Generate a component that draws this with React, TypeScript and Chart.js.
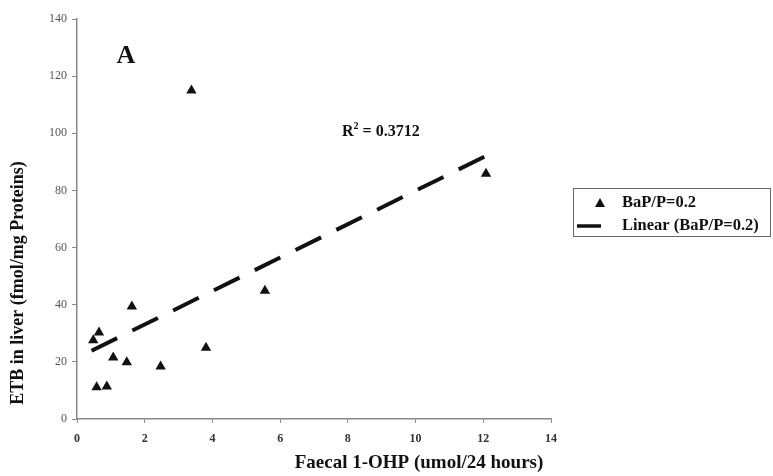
import React, { useEffect, useRef } from "react";
import { Chart, registerables } from "chart.js";

Chart.register(...registerables);

const seriesLabel = "BaP/P=0.2";
const trendLabel = "Linear (BaP/P=0.2)";
const xValues = [3.38, 12.08, 5.55, 1.62, 3.81, 2.47, 1.47, 1.07, 0.65, 0.48, 0.58, 0.88];
const yValues = [115, 85.8, 44.9, 39.4, 24.9, 18.4, 19.9, 21.5, 30.3, 27.6, 11.1, 11.4];
const trendX = [0.43, 12.05];
const trendY = [23.9, 91.9];
const xTitle = "Faecal 1-OHP (umol/24 hours)";
const yTitle = "ETB in liver (fmol/mg Proteins)";
const panelLabel = "A";
const r2Value = "0.3712";

const SERIF = "'Liberation Serif', 'DejaVu Serif', serif";

const overlay = {
  id: "overlay",
  afterDraw(chart: any) {
    const ctx = chart.ctx as CanvasRenderingContext2D;
    ctx.save();
    ctx.fillStyle = "#111";
    // Panel label
    ctx.font = `bold 26px ${SERIF}`;
    ctx.textAlign = "center";
    ctx.textBaseline = "middle";
    ctx.fillText(panelLabel, 126, 56);
    // R^2
    ctx.textAlign = "left";
    ctx.font = `bold 16px ${SERIF}`;
    let x = 342;
    ctx.fillText("R", x, 132);
    x += ctx.measureText("R").width;
    ctx.font = `bold 10px ${SERIF}`;
    ctx.fillText("2", x, 126);
    x += ctx.measureText("2").width;
    ctx.font = `bold 16px ${SERIF}`;
    ctx.fillText(" = " + r2Value, x, 132);
    // Axis titles
    ctx.textAlign = "center";
    ctx.font = `bold 19px ${SERIF}`;
    ctx.fillText(xTitle, 419, 463);
    ctx.save();
    ctx.translate(18, 283);
    ctx.rotate(-Math.PI / 2);
    ctx.font = `bold 18px ${SERIF}`;
    ctx.fillText(yTitle, 0, 0);
    ctx.restore();
    // Legend
    ctx.strokeStyle = "#666";
    ctx.lineWidth = 1;
    ctx.strokeRect(573.5, 188.5, 197, 48);
    ctx.fillStyle = "#111";
    ctx.beginPath();
    ctx.moveTo(600, 198);
    ctx.lineTo(605, 207);
    ctx.lineTo(595, 207);
    ctx.closePath();
    ctx.fill();
    ctx.strokeStyle = "#111";
    ctx.lineWidth = 3.5;
    ctx.beginPath();
    ctx.moveTo(577, 226);
    ctx.lineTo(601, 226);
    ctx.stroke();
    ctx.font = `bold 16.5px ${SERIF}`;
    ctx.textAlign = "left";
    ctx.fillText(chart.data.datasets[0].label, 622, 203);
    ctx.fillText(chart.data.datasets[1].label, 622, 226);
    ctx.restore();
  },
};

export default function App() {
  const ref = useRef<HTMLCanvasElement>(null);
  useEffect(() => {
    if (!ref.current) return;
    const chart = new Chart(ref.current, {
      type: "scatter",
      data: {
        datasets: [
          {
            label: seriesLabel,
            data: xValues.map((v, i) => ({ x: v, y: yValues[i] })),
            pointStyle: "triangle",
            radius: 6,
            backgroundColor: "#111",
            borderColor: "#111",
            borderWidth: 0,
          },
          {
            label: trendLabel,
            type: "line",
            data: trendX.map((v, i) => ({ x: v, y: trendY[i] })),
            borderColor: "#111",
            borderWidth: 4,
            borderDash: [28.5, 17],
            pointRadius: 0,
            fill: false,
          } as any,
        ],
      },
      options: {
        animation: false,
        responsive: false,
        layout: { padding: { top: 19, right: 222, left: 0, bottom: 0 } },
        plugins: { legend: { display: false }, tooltip: { enabled: false } },
        scales: {
          x: {
            type: "linear",
            min: 0,
            max: 14,
            afterFit: (s: any) => { s.height = 57; },
            ticks: { stepSize: 2, padding: 9, color: "#333", font: { family: SERIF, size: 12, weight: "bold" } },
            grid: { display: true, drawOnChartArea: false, drawTicks: true, tickLength: 4, color: "#888" },
            border: { display: true, color: "#888", width: 1.5 },
          },
          y: {
            type: "linear",
            min: 0,
            max: 140,
            afterFit: (s: any) => { s.width = 77; },
            ticks: { stepSize: 20, padding: 5, color: "#555", font: { family: SERIF, size: 12 } },
            grid: { display: true, drawOnChartArea: false, drawTicks: true, tickLength: 5, color: "#888" },
            border: { display: true, color: "#888", width: 1.5 },
          },
        },
      },
      plugins: [overlay],
    });
    return () => chart.destroy();
  }, []);
  return (
    <div style={{ position: "fixed", left: 0, top: 0, width: 773, height: 476, background: "#fff" }}>
      <canvas ref={ref} width={773} height={476} />
    </div>
  );
}
